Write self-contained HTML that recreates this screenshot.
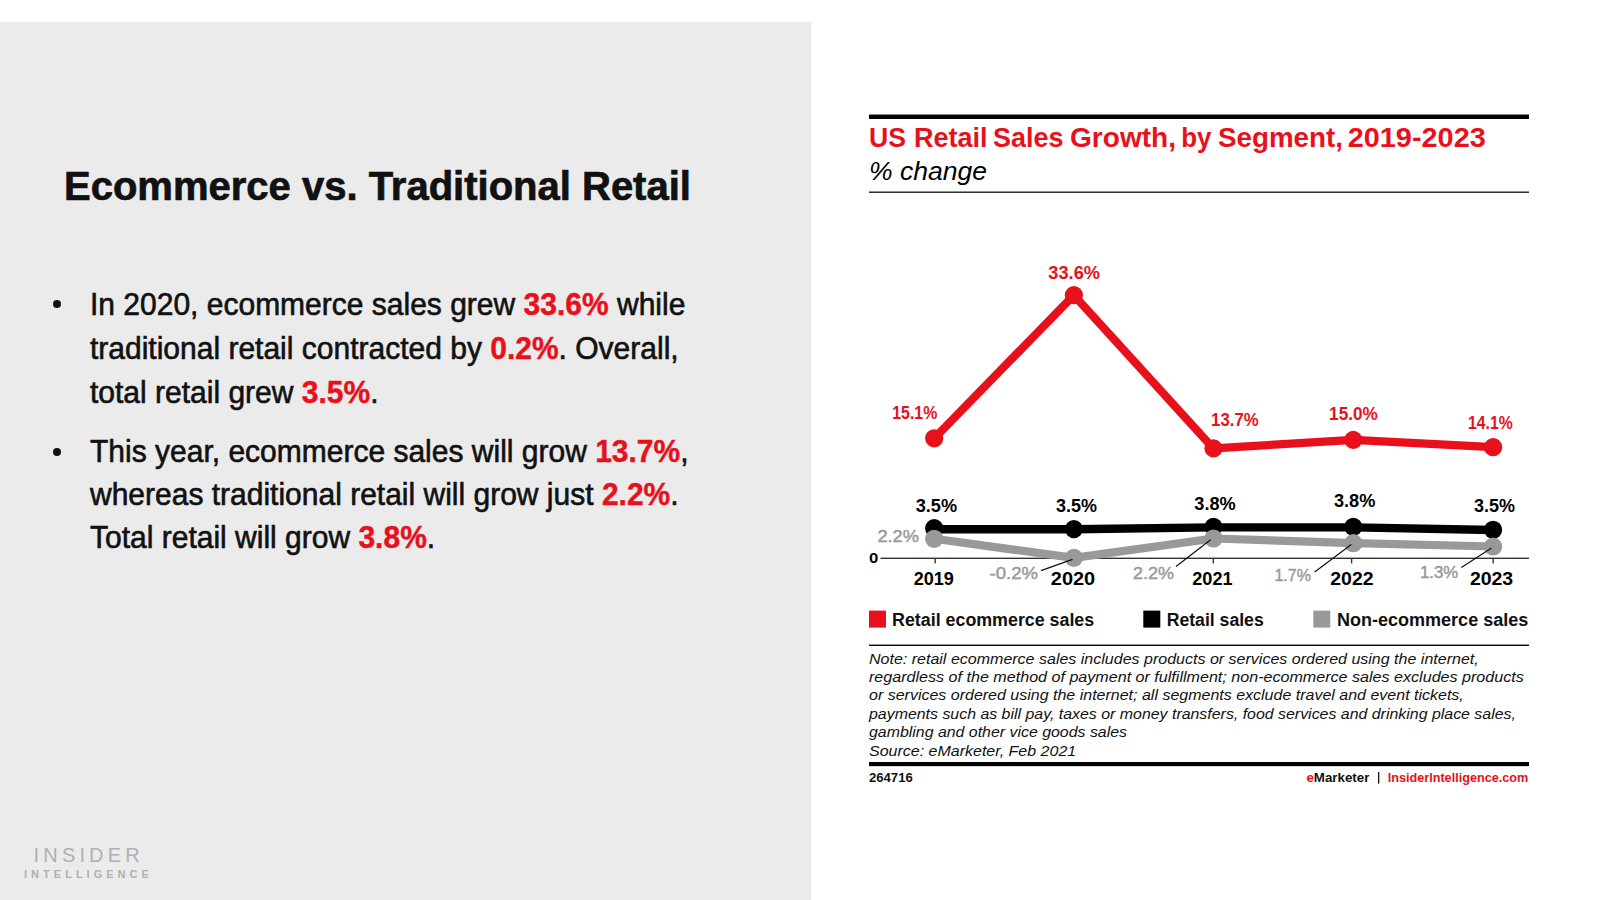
<!DOCTYPE html>
<html lang="en">
<head>
<meta charset="utf-8">
<title>Ecommerce vs. Traditional Retail</title>
<style>
  html, body { margin: 0; padding: 0; }
  body {
    width: 1600px; height: 900px; position: relative; overflow: hidden;
    background: #ffffff;
    font-family: "Liberation Sans", sans-serif;
    color: #111111;
  }
  .panel {
    position: absolute; left: 0; top: 22px; width: 811px; height: 878px;
    background: #ebebeb;
  }
  .title {
    position: absolute; left: 64px; top: 163px; margin: 0;
    font-size: 40px; line-height: 46px; font-weight: 700; white-space: nowrap;
    color: #111111;
    -webkit-text-stroke: 0.7px #111111;
  }
  .line {
    position: absolute; left: 90px; margin: 0;
    font-size: 30px; line-height: 34px; white-space: nowrap; color: #111111;
    -webkit-text-stroke: 0.6px #111111;
    transform: scaleY(1.05); transform-origin: 0 27px;
  }
  .line b { color: #e8111b; font-weight: 700; -webkit-text-stroke: 0.4px #e8111b; }
  .dot {
    position: absolute; left: 53.3px; width: 8px; height: 8px; border-radius: 50%;
    background: #111111;
  }
  .logo1 {
    position: absolute; left: 33.6px; top: 845px; font-size: 20px; line-height: 20px;
    letter-spacing: 4.15px; color: #b0b0b0; white-space: nowrap;
  }
  .logo2 {
    position: absolute; left: 24px; top: 868px; font-size: 11px; line-height: 12px;
    letter-spacing: 4.02px; color: #b0b0b0; font-weight: 700; white-space: nowrap;
  }
  svg.chart { position: absolute; left: 0; top: 0; font-family: "Liberation Sans", sans-serif; }
</style>
</head>
<body>
  <div class="panel"></div>

  <h1 class="title">Ecommerce vs. Traditional Retail</h1>

  <span class="dot" style="top:300px"></span>
  <p class="line" style="top:288px">In 2020, ecommerce sales grew <b>33.6%</b> while</p>
  <p class="line" style="top:332px">traditional retail contracted by <b>0.2%</b>. Overall,</p>
  <p class="line" style="top:375.5px">total retail grew <b>3.5%</b>.</p>

  <span class="dot" style="top:447.5px"></span>
  <p class="line" style="top:434.5px">This year, ecommerce sales will grow <b>13.7%</b>,</p>
  <p class="line" style="top:477.5px">whereas traditional retail will grow just <b>2.2%</b>.</p>
  <p class="line" style="top:521px">Total retail will grow <b>3.8%</b>.</p>

  <div class="logo1">INSIDER</div>
  <div class="logo2">INTELLIGENCE</div>

  <svg class="chart" width="1600" height="900" viewBox="0 0 1600 900">
    <!-- CHART -->
    <rect x="869" y="114.55" width="660" height="4.45" fill="#000000"/>
    <rect x="869" y="191.45" width="660" height="1.55" fill="#333333"/>
    <rect x="869" y="644.55" width="660" height="1.45" fill="#111111"/>
    <rect x="869" y="762" width="660" height="4.15" fill="#000000"/>
    <text y="147.2" font-size="27.5" font-weight="700" font-style="normal" fill="#e8111b"><tspan x="869" textLength="37.0" lengthAdjust="spacingAndGlyphs">US</tspan> <tspan x="914" textLength="73.5" lengthAdjust="spacingAndGlyphs">Retail</tspan> <tspan x="993" textLength="70.5" lengthAdjust="spacingAndGlyphs">Sales</tspan> <tspan x="1070" textLength="106.0" lengthAdjust="spacingAndGlyphs">Growth,</tspan> <tspan x="1181.3" textLength="30.2" lengthAdjust="spacingAndGlyphs">by</tspan> <tspan x="1218" textLength="125.0" lengthAdjust="spacingAndGlyphs">Segment,</tspan> <tspan x="1347.7" textLength="138.1" lengthAdjust="spacingAndGlyphs">2019-2023</tspan></text>
    <text x="869" y="180.2" font-size="26" font-weight="400" font-style="italic" fill="#000000" textLength="118.0" lengthAdjust="spacingAndGlyphs">% change</text>
    <rect x="880.5" y="557.6" width="648.5" height="1.4" fill="#333333"/>
    <rect x="934.5" y="558" width="1.4" height="5.4" fill="#333333"/>
    <rect x="1073.3" y="558" width="1.4" height="5.4" fill="#333333"/>
    <rect x="1212.6" y="558" width="1.4" height="5.4" fill="#333333"/>
    <rect x="1350.8999999999999" y="558" width="1.4" height="5.4" fill="#333333"/>
    <rect x="1492.5" y="558" width="1.4" height="5.4" fill="#333333"/>
    <text x="869" y="562.9" font-size="15.4" font-weight="700" font-style="normal" fill="#000000" textLength="9.3" lengthAdjust="spacingAndGlyphs">0</text>
    <polyline points="934.2,438.3 1073.9,295.2 1213.5,448.4 1353.3,439.9 1493.1,447.2" fill="none" stroke="#e8111b" stroke-width="8.2" stroke-linejoin="round" stroke-linecap="round"/>
    <circle cx="934.2" cy="438.3" r="9.1" fill="#e8111b"/>
    <circle cx="1073.9" cy="295.2" r="9.1" fill="#e8111b"/>
    <circle cx="1213.5" cy="448.4" r="9.1" fill="#e8111b"/>
    <circle cx="1353.3" cy="439.9" r="9.1" fill="#e8111b"/>
    <circle cx="1493.1" cy="447.2" r="9.1" fill="#e8111b"/>
    <polyline points="934.2,529.3 1073.9,529.3 1213.5,527.4 1353.3,527.4 1493.1,530.0" fill="none" stroke="#000000" stroke-width="8.4" stroke-linejoin="round" stroke-linecap="round"/>
    <circle cx="934.2" cy="528.2" r="9.1" fill="#000000"/>
    <circle cx="1073.9" cy="529.1" r="9.1" fill="#000000"/>
    <circle cx="1213.5" cy="526.9" r="9.1" fill="#000000"/>
    <circle cx="1353.3" cy="526.9" r="9.1" fill="#000000"/>
    <circle cx="1493.1" cy="529.8" r="9.1" fill="#000000"/>
    <polyline points="934.2,538.8 1073.9,557.9 1213.5,538.5 1353.3,543.2 1493.1,546.5" fill="none" stroke="#999999" stroke-width="8.2" stroke-linejoin="round" stroke-linecap="round"/>
    <circle cx="934.2" cy="538.8" r="9.1" fill="#999999"/>
    <circle cx="1073.9" cy="557.9" r="9.1" fill="#999999"/>
    <circle cx="1213.5" cy="538.5" r="9.1" fill="#999999"/>
    <circle cx="1353.3" cy="543.2" r="9.1" fill="#999999"/>
    <circle cx="1493.1" cy="546.5" r="9.1" fill="#999999"/>
    <line x1="1041" y1="570.6" x2="1072.5" y2="559.4" stroke="#111" stroke-width="1.2"/>
    <line x1="1176" y1="566.4" x2="1210.6" y2="539.8" stroke="#111" stroke-width="1.2"/>
    <line x1="1314.7" y1="572.1" x2="1351.3" y2="544.5" stroke="#111" stroke-width="1.2"/>
    <line x1="1461.4" y1="567.4" x2="1491.5" y2="548.1" stroke="#111" stroke-width="1.2"/>
    <text x="892.3" y="419.4" font-size="17.5" font-weight="700" font-style="normal" fill="#e8111b" textLength="45.0" lengthAdjust="spacingAndGlyphs">15.1%</text>
    <text x="1048.3" y="278.6" font-size="17.5" font-weight="700" font-style="normal" fill="#e8111b" textLength="51.7" lengthAdjust="spacingAndGlyphs">33.6%</text>
    <text x="1211.1" y="426.3" font-size="17.5" font-weight="700" font-style="normal" fill="#e8111b" textLength="47.5" lengthAdjust="spacingAndGlyphs">13.7%</text>
    <text x="1329.1" y="420.4" font-size="17.5" font-weight="700" font-style="normal" fill="#e8111b" textLength="48.7" lengthAdjust="spacingAndGlyphs">15.0%</text>
    <text x="1468" y="428.7" font-size="17.5" font-weight="700" font-style="normal" fill="#e8111b" textLength="44.7" lengthAdjust="spacingAndGlyphs">14.1%</text>
    <text x="915.7" y="511.6" font-size="17.5" font-weight="700" font-style="normal" fill="#000000" textLength="41.4" lengthAdjust="spacingAndGlyphs">3.5%</text>
    <text x="1055.9" y="511.6" font-size="17.5" font-weight="700" font-style="normal" fill="#000000" textLength="41.0" lengthAdjust="spacingAndGlyphs">3.5%</text>
    <text x="1194.3" y="509.9" font-size="17.5" font-weight="700" font-style="normal" fill="#000000" textLength="41.4" lengthAdjust="spacingAndGlyphs">3.8%</text>
    <text x="1333.9" y="506.9" font-size="17.5" font-weight="700" font-style="normal" fill="#000000" textLength="41.4" lengthAdjust="spacingAndGlyphs">3.8%</text>
    <text x="1474.1" y="512" font-size="17.5" font-weight="700" font-style="normal" fill="#000000" textLength="41.0" lengthAdjust="spacingAndGlyphs">3.5%</text>
    <text x="877.4" y="542.4" font-size="17" font-weight="400" font-style="normal" fill="#999999" textLength="41.5" lengthAdjust="spacingAndGlyphs" stroke="#999999" stroke-width="0.45">2.2%</text>
    <text x="989.6" y="578.5" font-size="17" font-weight="400" font-style="normal" fill="#999999" textLength="48.5" lengthAdjust="spacingAndGlyphs" stroke="#999999" stroke-width="0.45">-0.2%</text>
    <text x="1133.1" y="578.5" font-size="17" font-weight="400" font-style="normal" fill="#999999" textLength="41.0" lengthAdjust="spacingAndGlyphs" stroke="#999999" stroke-width="0.45">2.2%</text>
    <text x="1274.4" y="580.6" font-size="17" font-weight="400" font-style="normal" fill="#999999" textLength="36.5" lengthAdjust="spacingAndGlyphs" stroke="#999999" stroke-width="0.45">1.7%</text>
    <text x="1419.9" y="578" font-size="17" font-weight="400" font-style="normal" fill="#999999" textLength="38.3" lengthAdjust="spacingAndGlyphs" stroke="#999999" stroke-width="0.45">1.3%</text>
    <text x="913.8" y="585" font-size="17.5" font-weight="700" font-style="normal" fill="#000000" textLength="40.1" lengthAdjust="spacingAndGlyphs">2019</text>
    <text x="1050.8" y="585" font-size="17.5" font-weight="700" font-style="normal" fill="#000000" textLength="44.4" lengthAdjust="spacingAndGlyphs">2020</text>
    <text x="1192.2" y="585" font-size="17.5" font-weight="700" font-style="normal" fill="#000000" textLength="40.4" lengthAdjust="spacingAndGlyphs">2021</text>
    <text x="1330.3" y="585" font-size="17.5" font-weight="700" font-style="normal" fill="#000000" textLength="43.3" lengthAdjust="spacingAndGlyphs">2022</text>
    <text x="1469.9" y="585" font-size="17.5" font-weight="700" font-style="normal" fill="#000000" textLength="43.3" lengthAdjust="spacingAndGlyphs">2023</text>
    <rect x="869" y="610.6" width="17" height="17" fill="#e8111b"/>
    <rect x="1143.3" y="610.6" width="17" height="17" fill="#000000"/>
    <rect x="1313.3" y="610.6" width="17" height="17" fill="#999999"/>
    <text x="892.1" y="625.5" font-size="18" font-weight="700" font-style="normal" fill="#111" textLength="202.1" lengthAdjust="spacingAndGlyphs">Retail ecommerce sales</text>
    <text x="1166.7" y="625.5" font-size="18" font-weight="700" font-style="normal" fill="#111" textLength="97.0" lengthAdjust="spacingAndGlyphs">Retail sales</text>
    <text x="1336.9" y="625.5" font-size="18" font-weight="700" font-style="normal" fill="#111" textLength="191.4" lengthAdjust="spacingAndGlyphs">Non-ecommerce sales</text>
    <text x="869" y="663.7" font-size="15.4" font-weight="400" font-style="italic" fill="#111" textLength="609.7" lengthAdjust="spacingAndGlyphs">Note: retail ecommerce sales includes products or services ordered using the internet,</text>
    <text x="869" y="682.1" font-size="15.4" font-weight="400" font-style="italic" fill="#111" textLength="654.8" lengthAdjust="spacingAndGlyphs">regardless of the method of payment or fulfillment; non-ecommerce sales excludes products</text>
    <text x="869" y="700.4" font-size="15.4" font-weight="400" font-style="italic" fill="#111" textLength="594.8" lengthAdjust="spacingAndGlyphs">or services ordered using the internet; all segments exclude travel and event tickets,</text>
    <text x="869" y="718.8" font-size="15.4" font-weight="400" font-style="italic" fill="#111" textLength="646.9" lengthAdjust="spacingAndGlyphs">payments such as bill pay, taxes or money transfers, food services and drinking place sales,</text>
    <text x="869" y="737.1" font-size="15.4" font-weight="400" font-style="italic" fill="#111" textLength="258.0" lengthAdjust="spacingAndGlyphs">gambling and other vice goods sales</text>
    <text x="869" y="755.5" font-size="15.4" font-weight="400" font-style="italic" fill="#111" textLength="207.2" lengthAdjust="spacingAndGlyphs">Source: eMarketer, Feb 2021</text>
    <text x="869" y="782" font-size="12" font-weight="700" font-style="normal" fill="#111" textLength="43.7" lengthAdjust="spacingAndGlyphs">264716</text>
    <text x="1306.4" y="781.9" font-size="12.5" font-weight="700" fill="#111" textLength="63" lengthAdjust="spacingAndGlyphs"><tspan fill="#e8111b">e</tspan>Marketer</text>
    <rect x="1378" y="772" width="1.3" height="11.6" fill="#111"/>
    <text x="1387.7" y="781.9" font-size="12.5" font-weight="700" font-style="normal" fill="#e8111b" textLength="140.6" lengthAdjust="spacingAndGlyphs">InsiderIntelligence.com</text>
    <!-- /CHART -->
  </svg>
</body>
</html>
